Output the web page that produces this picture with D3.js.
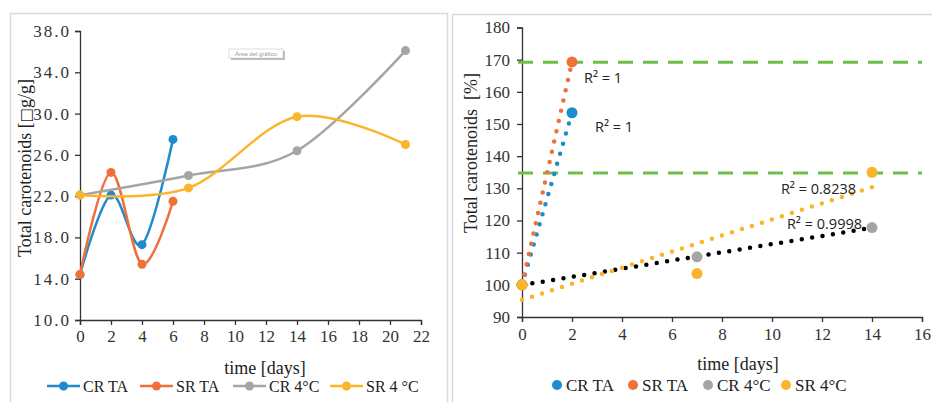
<!DOCTYPE html>
<html>
<head>
<meta charset="utf-8">
<script src="https://cdn.jsdelivr.net/npm/d3@7/dist/d3.min.js"></script>
<style>
  body { margin: 0; background: #fff; }
  svg { display: block; }
  .tick text { font-family: "Liberation Serif", serif; fill: #333; }
</style>
</head>
<body>
<div id="chart"></div>
<script>
// left panel: absolute content [µg/g]
var daysTA = [0, 2, 4, 6];
var days4C = [0, 7, 14, 21];
var crTA = [14.4, 22.1, 17.3, 27.5];
var srTA = [14.4, 24.3, 15.4, 21.5];
var cr4C = [22.1, 24.0, 26.4, 36.1];
var sr4C = [22.1, 22.8, 29.7, 27.0];
var leftYTicks = [10, 14, 18, 22, 26, 30, 34, 38];
var leftXTicks = [0, 2, 4, 6, 8, 10, 12, 14, 16, 18, 20, 22];

// right panel: relative content [%]
var relDaysTA = [0, 2];
var relDays4C = [0, 7, 14];
var relCrTA = [100, 153.5];
var relSrTA = [100, 169.3];
var relCr4C = [100, 108.7, 117.8];
var relSr4C = [100, 103.5, 135.0];
var thresholds = [169.2, 134.8];
var r2Labels = ['R² = 1', 'R² = 1', 'R² = 0.9998', 'R² = 0.8238'];
var rightYTicks = [90, 100, 110, 120, 130, 140, 150, 160, 170, 180];
var rightXTicks = [0, 2, 4, 6, 8, 10, 12, 14, 16];

var seriesNames = ['CR TA', 'SR TA', 'CR 4°C', 'SR 4 °C'];
var seriesNamesR = ['CR TA', 'SR TA', 'CR 4°C', 'SR 4°C'];
var colors = ['#1f8bcc', '#f0703a', '#a5a5a5', '#fbb52b'];

var W = 932, H = 402;
var serif = 'Liberation Serif';
var svg = d3.select('#chart').append('svg').attr('width', W).attr('height', H);

// panel frames
var frame = '#d9d9d9';
svg.append('path').attr('d', 'M10.5,402 V13.5 H447.5 V402')
  .attr('fill', 'none').attr('stroke', frame).attr('stroke-width', 1.5);
svg.append('path').attr('d', 'M452.5,402 V14.5 H932')
  .attr('fill', 'none').attr('stroke', frame).attr('stroke-width', 1.5);

function styleAxis(g, size) {
  g.select('.domain').attr('stroke', '#333').attr('stroke-width', 1.3);
  g.selectAll('.tick line').attr('stroke', '#333').attr('stroke-width', 1.3);
  g.selectAll('.tick text').attr('font-size', size);
}

// ---------- left chart ----------
var xL = d3.scaleLinear().domain([0, 22]).range([80, 421]);
var yL = d3.scaleLinear().domain([10, 38]).range([320, 31]);

var gL = svg.append('g');
gL.append('g').attr('transform', 'translate(0,320)')
  .call(d3.axisBottom(xL).tickValues(leftXTicks).tickSize(5).tickPadding(5).tickFormat(d3.format('d')))
  .call(function (g) { styleAxis(g, 17); });
gL.append('g').attr('transform', 'translate(80,0)')
  .call(d3.axisLeft(yL).tickValues(leftYTicks).tickSize(5).tickPadding(4).tickFormat(d3.format('.1f')))
  .call(function (g) { styleAxis(g, 17); g.selectAll('.tick text').attr('letter-spacing', 2); });

var lineL = d3.line().curve(d3.curveCardinal.tension(0))
  .x(function (d) { return xL(d[0]); })
  .y(function (d) { return yL(d[1]); });

var leftSeries = [
  d3.zip(daysTA, crTA),
  d3.zip(daysTA, srTA),
  d3.zip(days4C, cr4C),
  d3.zip(days4C, sr4C)
];
leftSeries.forEach(function (pts, i) {
  var s = gL.append('g');
  s.append('path').attr('d', lineL(pts)).attr('fill', 'none')
    .attr('stroke', colors[i]).attr('stroke-width', 2.5);
  s.selectAll('circle').data(pts).enter().append('circle')
    .attr('cx', function (d) { return xL(d[0]); })
    .attr('cy', function (d) { return yL(d[1]); })
    .attr('r', 4.5).attr('fill', colors[i]);
});

gL.append('text').attr('x', 265).attr('y', 374).attr('text-anchor', 'middle')
  .attr('font-family', serif).attr('font-size', 18).attr('fill', '#222')
  .text('time [days]');
// the µ did not survive in the source picture; keep its empty box
var yLab = gL.append('text').attr('transform', 'translate(31,168) rotate(-90)').attr('text-anchor', 'middle')
  .attr('font-family', serif).attr('font-size', 18).attr('fill', '#222');
yLab.append('tspan').text('Total carotenoids [');
yLab.append('tspan').attr('font-family', 'DejaVu Sans').attr('font-size', 15).text('□');
yLab.append('tspan').text('g/g]');

// chart-area tooltip left over in the picture
var tip = gL.append('g').attr('transform', 'translate(229,49)');
tip.append('rect').attr('x', 2).attr('y', 2).attr('width', 54).attr('height', 9).attr('fill', '#bdbdbd');
tip.append('rect').attr('width', 54).attr('height', 9).attr('fill', '#fff').attr('stroke', '#c8c8c8').attr('stroke-width', 0.6);
tip.append('text').attr('x', 27).attr('y', 6.8).attr('text-anchor', 'middle')
  .attr('font-family', 'Liberation Sans, sans-serif').attr('font-size', 6).attr('fill', '#999')
  .text('Área del gráfico');

// left legend
var legXL = [47, 140, 233, 330];
var legL = gL.append('g').attr('transform', 'translate(0,386)');
seriesNames.forEach(function (name, i) {
  var it = legL.append('g').attr('transform', 'translate(' + legXL[i] + ',0)');
  it.append('line').attr('x1', 0).attr('x2', 33).attr('stroke', colors[i]).attr('stroke-width', 2.5);
  it.append('circle').attr('cx', 16.5).attr('r', 4.5).attr('fill', colors[i]);
  it.append('text').attr('x', 36).attr('y', 5.5)
    .attr('font-family', serif).attr('font-size', 16).attr('fill', '#222')
    .text(name);
});

// ---------- right chart ----------
var xR = d3.scaleLinear().domain([0, 16]).range([522, 922]);
var yR = d3.scaleLinear().domain([90, 180]).range([317, 27.5]);

var gR = svg.append('g');
gR.append('g').attr('transform', 'translate(0,317)')
  .call(d3.axisBottom(xR).tickValues(rightXTicks).tickSize(5).tickPadding(6).tickFormat(d3.format('d')))
  .call(function (g) { styleAxis(g, 17); });
gR.append('g').attr('transform', 'translate(522,0)')
  .call(d3.axisLeft(yR).tickValues(rightYTicks).tickSize(5).tickPadding(7).tickFormat(d3.format('d')))
  .call(function (g) { styleAxis(g, 17); });

// threshold lines
gR.selectAll('.thr').data(thresholds).enter().append('line')
  .attr('x1', 518).attr('x2', 922)
  .attr('y1', function (d) { return yR(d); }).attr('y2', function (d) { return yR(d); })
  .attr('stroke', '#6cc04a').attr('stroke-width', 3).attr('stroke-dasharray', '15 10');

var rightSeries = [
  d3.zip(relDaysTA, relCrTA),
  d3.zip(relDaysTA, relSrTA),
  d3.zip(relDays4C, relCr4C),
  d3.zip(relDays4C, relSr4C)
];
var trendColors = ['#1f8bcc', '#f0703a', '#000000', '#fbb52b'];

function linFit(pts) {
  var mx = d3.mean(pts, function (d) { return d[0]; });
  var my = d3.mean(pts, function (d) { return d[1]; });
  var sxy = d3.sum(pts, function (d) { return (d[0] - mx) * (d[1] - my); });
  var sxx = d3.sum(pts, function (d) { return (d[0] - mx) * (d[0] - mx); });
  var b = sxy / sxx;
  return { a: my - b * mx, b: b };
}

// trendlines
rightSeries.forEach(function (pts, i) {
  var f = linFit(pts);
  var x0 = d3.min(pts, function (d) { return d[0]; }), x1 = d3.max(pts, function (d) { return d[0]; });
  gR.append('line')
    .attr('x1', xR(x0)).attr('y1', yR(f.a + f.b * x0))
    .attr('x2', xR(x1)).attr('y2', yR(f.a + f.b * x1))
    .attr('stroke', trendColors[i]).attr('stroke-width', 4.5)
    .attr('stroke-linecap', 'round').attr('stroke-dasharray', '0 10.5');
});

// markers
rightSeries.forEach(function (pts, i) {
  gR.append('g').selectAll('circle').data(pts).enter().append('circle')
    .attr('cx', function (d) { return xR(d[0]); })
    .attr('cy', function (d) { return yR(d[1]); })
    .attr('r', 5.5).attr('fill', colors[i]);
});

// R² labels, anchored to each series' last point
var r2Offsets = [[23, 19, 'start'], [12, 21, 'start'], [-10, 1, 'end'], [-16, 22, 'end']];
rightSeries.forEach(function (pts, i) {
  var last = pts[pts.length - 1];
  gR.append('text')
    .attr('x', xR(last[0]) + r2Offsets[i][0]).attr('y', yR(last[1]) + r2Offsets[i][1])
    .attr('text-anchor', r2Offsets[i][2])
    .attr('font-family', 'Open Sans, sans-serif').attr('font-size', 14.5).attr('fill', '#222')
    .text(r2Labels[i]);
});

gR.append('text').attr('x', 738).attr('y', 370).attr('text-anchor', 'middle')
  .attr('font-family', serif).attr('font-size', 18).attr('fill', '#222')
  .text('time [days]');
gR.append('text').attr('transform', 'translate(477,153) rotate(-90)').attr('text-anchor', 'middle')
  .attr('font-family', serif).attr('font-size', 18).attr('fill', '#222')
  .attr('xml:space', 'preserve').style('white-space', 'pre')
  .text('Total carotenoids  [%]');

// right legend
var legXR = [557, 633, 708, 786];
var legR = gR.append('g').attr('transform', 'translate(0,385)');
seriesNamesR.forEach(function (name, i) {
  var it = legR.append('g').attr('transform', 'translate(' + legXR[i] + ',0)');
  it.append('circle').attr('r', 5).attr('fill', colors[i]);
  it.append('text').attr('x', 9).attr('y', 5.5)
    .attr('font-family', serif).attr('font-size', 17).attr('fill', '#222')
    .text(name);
});
</script>
</body>
</html>
